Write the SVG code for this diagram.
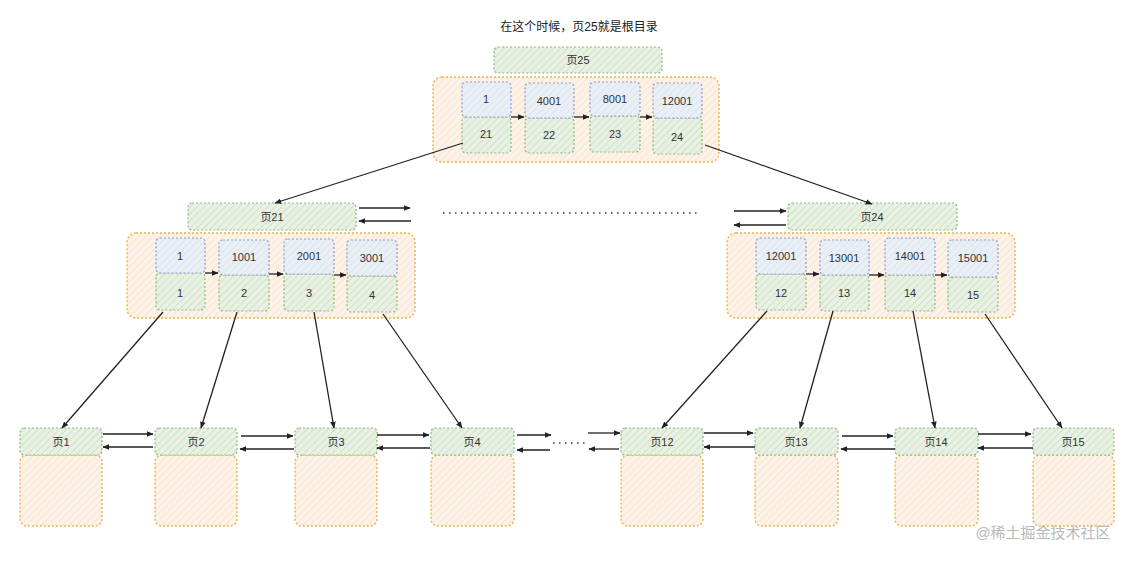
<svg xmlns="http://www.w3.org/2000/svg" width="1139" height="567" viewBox="0 0 1139 567">
<defs>
<pattern id="hg" width="5" height="5" patternUnits="userSpaceOnUse" patternTransform="rotate(45)"><rect width="5" height="5" fill="#e8f1e4"/><line x1="0" y1="0" x2="0" y2="5" stroke="#c4dcba" stroke-width="1.4"/></pattern>
<pattern id="ho" width="5" height="5" patternUnits="userSpaceOnUse" patternTransform="rotate(45)"><rect width="5" height="5" fill="#fdf2e7"/><line x1="0" y1="0" x2="0" y2="5" stroke="#f7e1cb" stroke-width="1.4"/></pattern>
<pattern id="hb" width="5" height="5" patternUnits="userSpaceOnUse" patternTransform="rotate(45)"><rect width="5" height="5" fill="#eaeff6"/><line x1="0" y1="0" x2="0" y2="5" stroke="#d6e0ee" stroke-width="1.4"/></pattern>
<marker id="ah" viewBox="0 0 10 10" refX="9" refY="5" markerWidth="7" markerHeight="7" orient="auto-start-reverse" markerUnits="userSpaceOnUse"><path d="M0,1 L10,5 L0,9 Z" fill="#222"/></marker>
</defs>
<style>
.g{fill:url(#hg);stroke:#8fb980;stroke-width:1.2;stroke-dasharray:2 2}
.o{fill:url(#ho);stroke:#e8b54a;stroke-width:1.4;stroke-dasharray:2 2}
.b{fill:url(#hb);stroke:#8d9fc8;stroke-width:1.2;stroke-dasharray:2 2}
.t{font-family:"Liberation Sans","Noto Sans CJK SC",sans-serif;font-size:11px;fill:#333;text-anchor:middle;dominant-baseline:central}
.c{stroke:#222;stroke-width:1.3;fill:none}
.a{stroke:#222;stroke-width:1.3;fill:none;marker-end:url(#ah)}
.d{stroke:#333;stroke-width:1.5;fill:none;stroke-dasharray:1.5 4.5}
</style>
<text x="579" y="27" class="t" style="font-size:12px;fill:#222">在这个时候，页25就是根目录</text>

<g id="root">
<rect x="494" y="47" width="168" height="26" rx="4" class="g"/><text x="578" y="60" class="t">页25</text>
<rect x="433" y="77" width="286" height="85" rx="9" class="o"/>
<rect x="462" y="117" width="49" height="36" rx="4" class="g"/><text x="486" y="134" class="t">21</text>
<rect x="462" y="82" width="49" height="35" rx="4" class="b"/><text x="486" y="99" class="t">1</text>
<rect x="525" y="118" width="49" height="35" rx="4" class="g"/><text x="549" y="135" class="t">22</text>
<rect x="525" y="83" width="49" height="35" rx="4" class="b"/><text x="549" y="101" class="t">4001</text>
<rect x="590" y="116" width="50" height="36" rx="4" class="g"/><text x="615" y="134" class="t">23</text>
<rect x="590" y="82" width="50" height="34" rx="4" class="b"/><text x="615" y="99" class="t">8001</text>
<rect x="653" y="118" width="49" height="36" rx="4" class="g"/><text x="677" y="137" class="t">24</text>
<rect x="653" y="83" width="49" height="35" rx="4" class="b"/><text x="677" y="101" class="t">12001</text>
</g>

<g id="p21">
<rect x="188" y="203" width="168" height="27" rx="4" class="g"/><text x="272" y="217" class="t">页21</text>
<rect x="127" y="233" width="288" height="85" rx="9" class="o"/>
<rect x="156" y="273" width="49" height="37" rx="4" class="g"/><text x="180" y="293" class="t">1</text>
<rect x="156" y="238" width="49" height="35" rx="4" class="b"/><text x="180" y="256" class="t">1</text>
<rect x="219" y="275" width="50" height="36" rx="4" class="g"/><text x="244" y="293" class="t">2</text>
<rect x="219" y="240" width="50" height="35" rx="4" class="b"/><text x="244" y="257" class="t">1001</text>
<rect x="284" y="274" width="50" height="37" rx="4" class="g"/><text x="309" y="293" class="t">3</text>
<rect x="284" y="239" width="50" height="35" rx="4" class="b"/><text x="309" y="256" class="t">2001</text>
<rect x="347" y="276" width="50" height="36" rx="4" class="g"/><text x="372" y="295" class="t">4</text>
<rect x="347" y="240" width="50" height="36" rx="4" class="b"/><text x="372" y="258" class="t">3001</text>
</g>

<g id="p24">
<rect x="788" y="203" width="169" height="27" rx="4" class="g"/><text x="872" y="217" class="t">页24</text>
<rect x="727" y="233" width="288" height="85" rx="9" class="o"/>
<rect x="756" y="274" width="50" height="36" rx="4" class="g"/><text x="781" y="293" class="t">12</text>
<rect x="756" y="238" width="50" height="36" rx="4" class="b"/><text x="781" y="256" class="t">12001</text>
<rect x="820" y="275" width="49" height="36" rx="4" class="g"/><text x="844" y="293" class="t">13</text>
<rect x="820" y="240" width="49" height="35" rx="4" class="b"/><text x="844" y="258" class="t">13001</text>
<rect x="885" y="275" width="50" height="36" rx="4" class="g"/><text x="910" y="293" class="t">14</text>
<rect x="885" y="238" width="50" height="37" rx="4" class="b"/><text x="910" y="256" class="t">14001</text>
<rect x="948" y="277" width="50" height="35" rx="4" class="g"/><text x="973" y="295" class="t">15</text>
<rect x="948" y="240" width="50" height="37" rx="4" class="b"/><text x="973" y="258" class="t">15001</text>
</g>

<g id="leaf1"><rect x="20" y="455" width="82" height="71" rx="7" class="o"/><rect x="20" y="428" width="82" height="27" rx="4" class="g"/><text x="61" y="442" class="t">页1</text></g>
<g id="leaf2"><rect x="155" y="455" width="82" height="71" rx="7" class="o"/><rect x="155" y="428" width="82" height="27" rx="4" class="g"/><text x="196" y="442" class="t">页2</text></g>
<g id="leaf3"><rect x="295" y="455" width="82" height="71" rx="7" class="o"/><rect x="295" y="428" width="82" height="27" rx="4" class="g"/><text x="336" y="442" class="t">页3</text></g>
<g id="leaf4"><rect x="431" y="455" width="83" height="71" rx="7" class="o"/><rect x="431" y="428" width="83" height="27" rx="4" class="g"/><text x="472" y="442" class="t">页4</text></g>
<g id="leaf12"><rect x="621" y="455" width="82" height="71" rx="7" class="o"/><rect x="621" y="428" width="82" height="27" rx="4" class="g"/><text x="662" y="442" class="t">页12</text></g>
<g id="leaf13"><rect x="755" y="455" width="83" height="71" rx="7" class="o"/><rect x="755" y="428" width="83" height="27" rx="4" class="g"/><text x="796" y="442" class="t">页13</text></g>
<g id="leaf14"><rect x="895" y="455" width="83" height="71" rx="7" class="o"/><rect x="895" y="428" width="83" height="27" rx="4" class="g"/><text x="936" y="442" class="t">页14</text></g>
<g id="leaf15"><rect x="1033" y="455" width="81" height="71" rx="7" class="o"/><rect x="1033" y="428" width="81" height="27" rx="4" class="g"/><text x="1073" y="442" class="t">页15</text></g>

<g id="connectors">
<path class="a" d="M511,117 L524,117"/>
<path class="a" d="M574,117 L589,117"/>
<path class="a" d="M640,117 L652,117"/>
<path class="a" d="M205,273 L218,273"/>
<path class="a" d="M269,274 L283,274"/>
<path class="a" d="M334,275 L346,275"/>
<path class="a" d="M806,274 L819,274"/>
<path class="a" d="M869,275 L884,275"/>
<path class="a" d="M935,275 L947,275"/>

<path class="a" d="M463,143 L275,203"/>
<path class="a" d="M705,145 L872,204"/>

<path class="a" d="M359,208 L410,208"/>
<path class="a" d="M411,221 L359,221"/>
<path class="a" d="M734,211 L786,211"/>
<path class="a" d="M786,225 L734,225"/>
<path class="d" d="M443,213 L700,213"/>

<path class="a" d="M163,312 L62,428"/>
<path class="a" d="M237,312 L201,428"/>
<path class="a" d="M314,312 L334,428"/>
<path class="a" d="M383,314 L462,428"/>
<path class="a" d="M767,311 L662,428"/>
<path class="a" d="M833,311 L800,428"/>
<path class="a" d="M913,311 L935,428"/>
<path class="a" d="M985,314 L1062,428"/>

<path class="a" d="M103,434 L153,434"/>
<path class="a" d="M153,447 L103,447"/>
<path class="a" d="M241,436 L293,436"/>
<path class="a" d="M294,449 L240,449"/>
<path class="a" d="M377,435 L429,435"/>
<path class="a" d="M430,448 L377,448"/>
<path class="a" d="M517,435 L551,435"/>
<path class="a" d="M550,450 L517,450"/>
<path class="d" d="M553,443 L585,443"/>
<path class="a" d="M588,433 L620,433"/>
<path class="a" d="M619,449 L589,449"/>
<path class="a" d="M704,433 L753,433"/>
<path class="a" d="M755,447 L704,447"/>
<path class="a" d="M842,436 L893,436"/>
<path class="a" d="M895,449 L841,449"/>
<path class="a" d="M978,434 L1031,434"/>
<path class="a" d="M1033,448 L978,448"/>
</g>
<text x="1043" y="532" class="t" style="font-size:15px;fill:#b8b8b8">@稀土掘金技术社区</text>
</svg>
